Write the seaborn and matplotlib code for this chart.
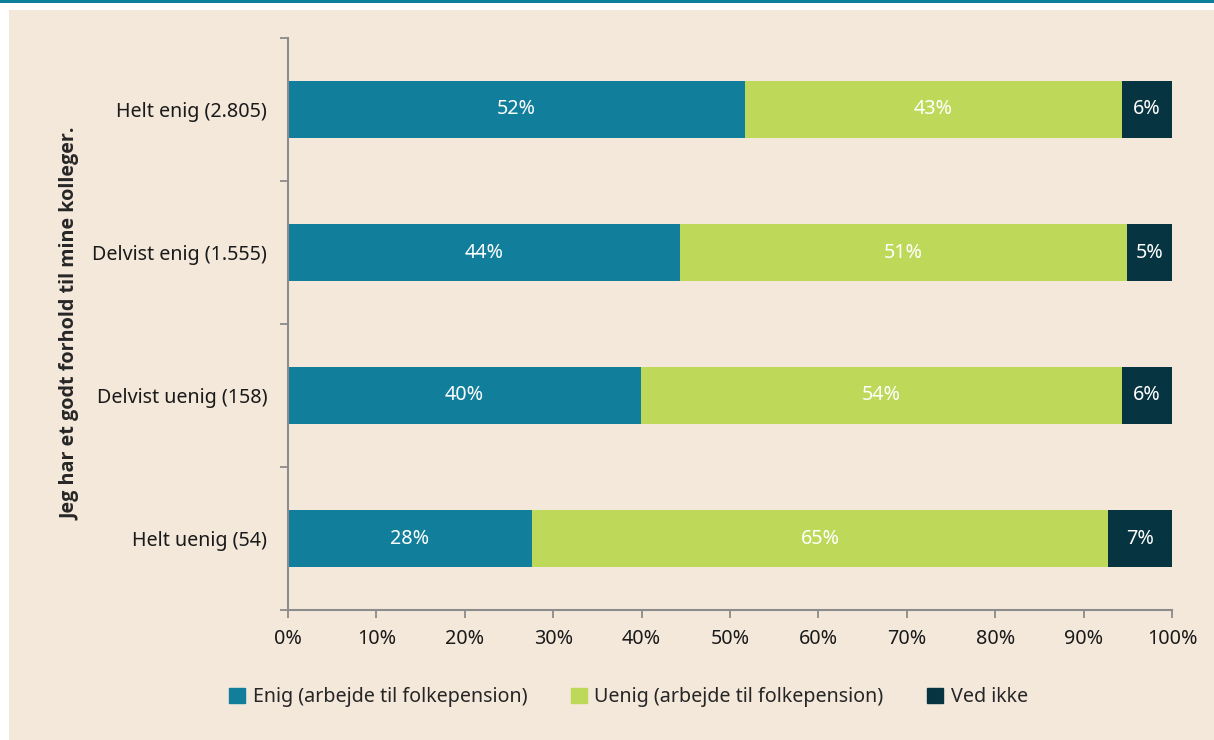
import matplotlib
matplotlib.use("Agg")
import matplotlib.pyplot as plt
import matplotlib.patches as mpatches
import pandas as pd
import seaborn as sns

# data (percent)
categories = ['Helt enig (2.805)', 'Delvist enig (1.555)', 'Delvist uenig (158)', 'Helt uenig (54)']
enig = [51.7, 44.3, 39.9, 27.6]
uenig = [42.6, 50.6, 54.4, 65.2]
ved_ikke = [5.7, 5.1, 5.7, 7.2]
enig_lbl = ['52%', '44%', '40%', '28%']
uenig_lbl = ['43%', '51%', '54%', '65%']
ved_lbl = ['6%', '5%', '6%', '7%']
series_names = ['Enig (arbejde til folkepension)', 'Uenig (arbejde til folkepension)', 'Ved ikke']

c_enig = '#117E9B'
c_uenig = '#BED959'
c_ved = '#063441'
bg = '#F4E8DB'
axis_grey = '#8C8C8C'

sns.set_theme(style='white')
plt.rcParams['font.family'] = ['Noto Sans', 'DejaVu Sans']
fs = 14.2

df = pd.DataFrame({'cat': categories, 'enig': enig, 'uenig': uenig, 'ved': ved_ikke})
df['cum2'] = df['enig'] + df['uenig']
df['cum3'] = df['cum2'] + df['ved']

fig = plt.figure(figsize=(12.14, 7.40), dpi=100)
fig.patch.set_facecolor('white')
# beige panel + teal rule at top
fig.patches.append(mpatches.Rectangle((9 / 1214, 0), 1 - 9 / 1214, 730 / 740, transform=fig.transFigure,
                                      facecolor=bg, edgecolor='none', zorder=-2))
fig.patches.append(mpatches.Rectangle((0, 737 / 740), 1, 3 / 740, transform=fig.transFigure,
                                      facecolor='#0E7F9A', edgecolor='none', zorder=-2))

ax = fig.add_axes([288 / 1214, 130 / 740, 884 / 1214, 572 / 740])
ax.set_facecolor(bg)

# stacked bars: draw cumulative totals back to front
sns.barplot(data=df, y='cat', x='cum3', color=c_ved, orient='h', width=0.4, ax=ax, saturation=1, linewidth=0)
sns.barplot(data=df, y='cat', x='cum2', color=c_uenig, orient='h', width=0.4, ax=ax, saturation=1, linewidth=0)
sns.barplot(data=df, y='cat', x='enig', color=c_enig, orient='h', width=0.4, ax=ax, saturation=1, linewidth=0)

for i in range(len(categories)):
    ax.text(enig[i] / 2, i, enig_lbl[i], ha='center', va='center', color='white', fontsize=fs)
    ax.text(enig[i] + uenig[i] / 2, i, uenig_lbl[i], ha='center', va='center', color='white', fontsize=fs)
    ax.text(enig[i] + uenig[i] + ved_ikke[i] / 2, i, ved_lbl[i], ha='center', va='center', color='white', fontsize=fs)

ax.set_xlim(0, 100)
ax.set_ylim(3.5, -0.5)
ax.set_xticks(range(0, 101, 10))
ax.set_xticklabels([f'{v}%' for v in range(0, 101, 10)], fontsize=fs, color='#1a1a1a')
ax.set_yticks(range(len(categories)))
ax.set_yticklabels(categories, fontsize=fs, color='#1a1a1a')
ax.set_yticks([-0.5, 0.5, 1.5, 2.5, 3.5], minor=True)
ax.tick_params(axis='y', which='major', left=False, pad=9)
ax.tick_params(axis='y', which='minor', left=True, length=6, width=1.3, color=axis_grey, direction='out')
ax.tick_params(axis='x', which='major', bottom=True, length=6, width=1.3, color=axis_grey, direction='out', pad=8)
ax.set_xlabel('')
ax.set_ylabel('Jeg har et godt forhold til mine kolleger.', fontsize=fs, fontweight='bold',
              family=['Open Sans', 'DejaVu Sans'])
ax.yaxis.set_label_coords(-0.235, 0.5)

sns.despine(ax=ax, top=True, right=True)
for s in ['left', 'bottom']:
    ax.spines[s].set_color(axis_grey)
    ax.spines[s].set_linewidth(1.5)

handles = [mpatches.Patch(color=c, label=n) for c, n in zip([c_enig, c_uenig, c_ved], series_names)]
fig.legend(handles=handles, loc='center', bbox_to_anchor=(628.5 / 1214, 43 / 740), ncol=3, frameon=False,
           fontsize=fs, handlelength=0.8, handleheight=0.8, handletextpad=0.4, columnspacing=2.2)

fig.savefig('out.png', dpi=100, facecolor=fig.get_facecolor())
